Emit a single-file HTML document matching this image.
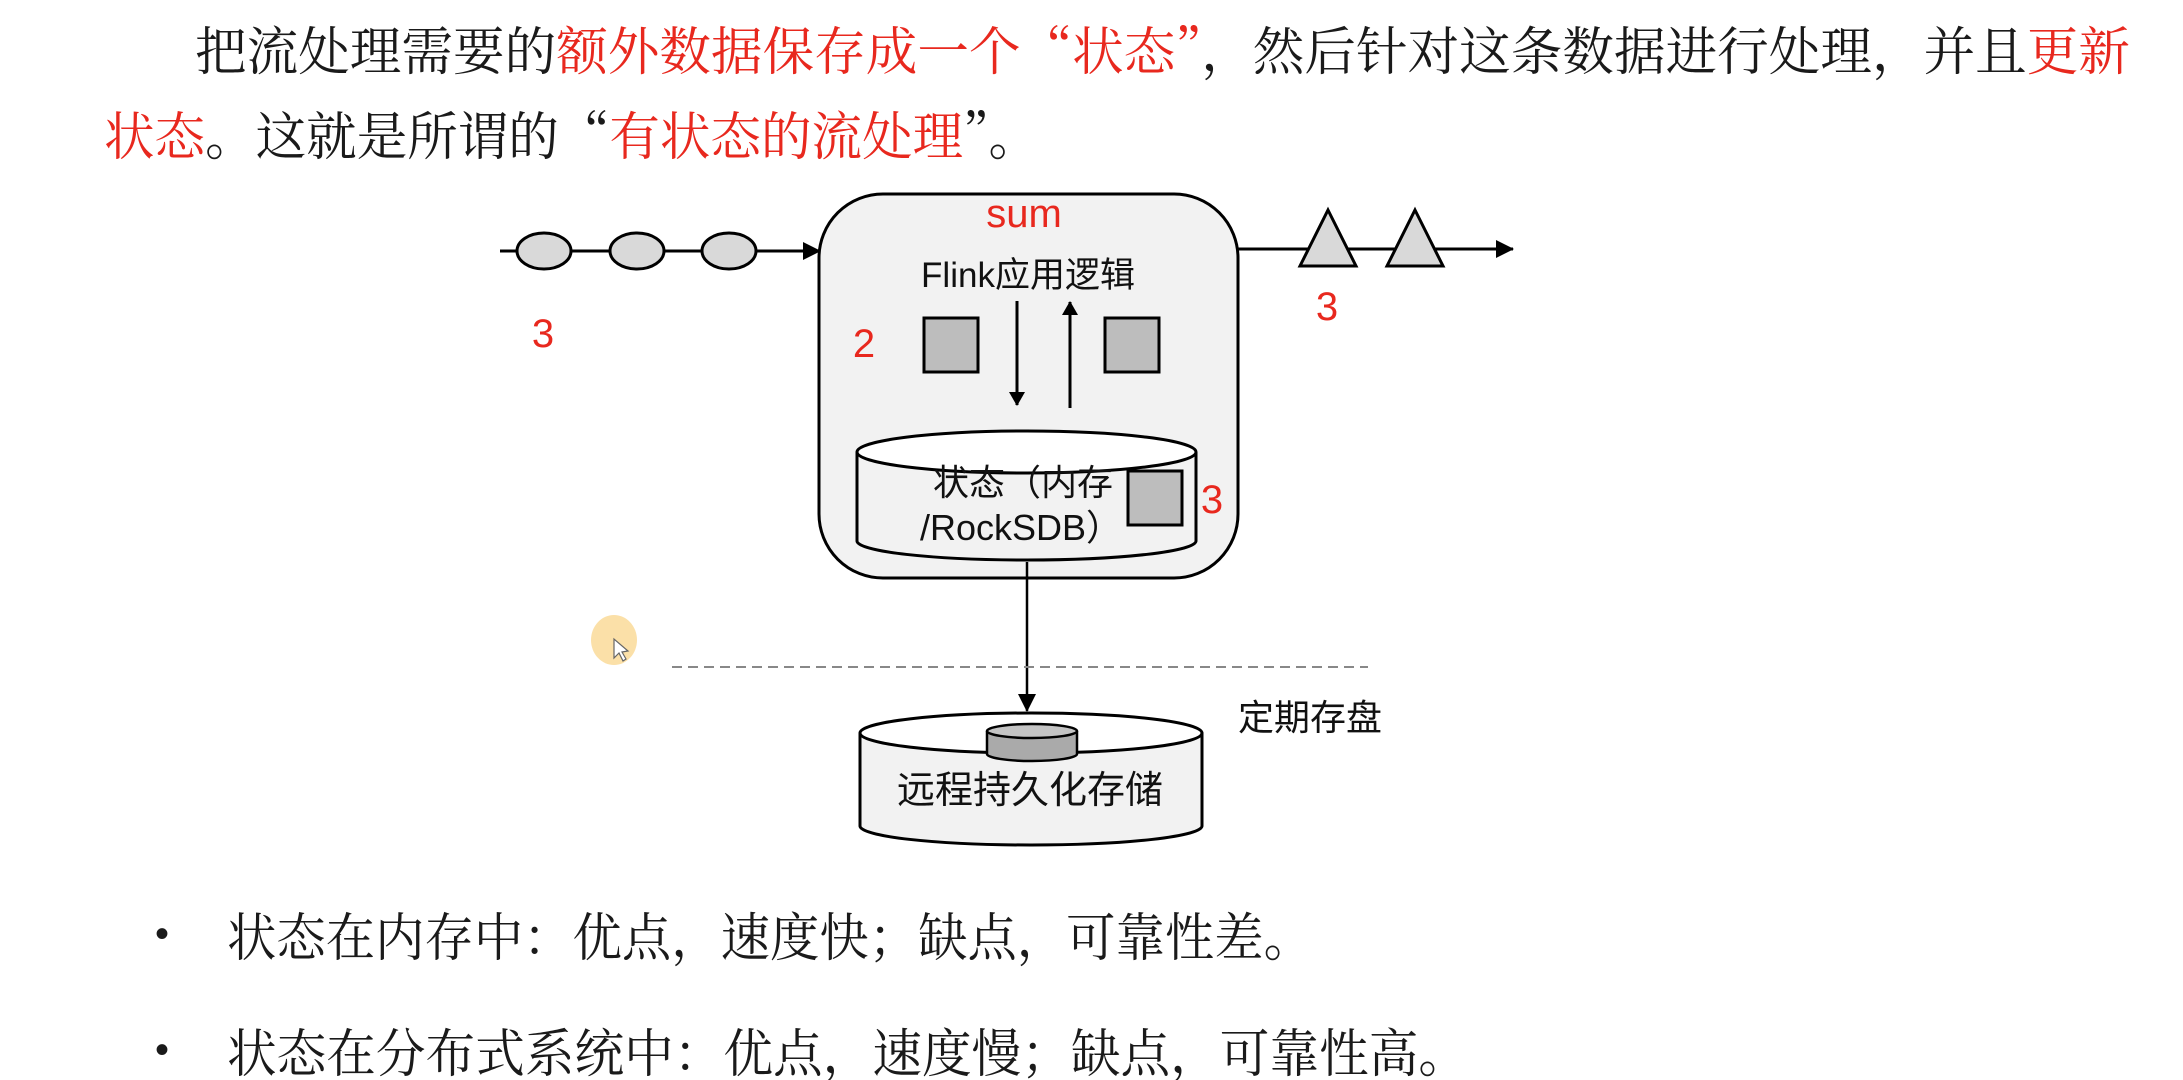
<!DOCTYPE html>
<html><head><meta charset="utf-8"><style>
html,body{margin:0;padding:0;background:#fff;width:2183px;height:1080px;overflow:hidden}
svg{display:block}
.t{font-family:"Noto Serif CJK SC","Liberation Serif",serif;font-size:52px;fill:#1a1a1a}
.r{fill:#e8281e}
.d{font-family:"Liberation Sans","Noto Sans CJK SC",sans-serif;fill:#111}
.n{font-family:"Liberation Sans",sans-serif;fill:#e8281e;font-size:40px}
.bu{font-family:"Liberation Sans",sans-serif;font-size:40px;fill:#1a1a1a}
</style></head><body>
<svg width="2183" height="1080" viewBox="0 0 2183 1080" xmlns="http://www.w3.org/2000/svg">
<defs>
<marker id="a" markerWidth="14" markerHeight="16" refX="13" refY="8" orient="auto" markerUnits="userSpaceOnUse" viewBox="0 0 14 16"><path d="M0,0 L14,8 L0,16z" fill="#000"/></marker>
<marker id="b" markerWidth="18" markerHeight="18" refX="17" refY="9" orient="auto" markerUnits="userSpaceOnUse" viewBox="0 0 18 18"><path d="M0,0 L18,9 L0,18z" fill="#000"/></marker>
</defs>
<text class="t" x="195" y="70" textLength="1935" lengthAdjust="spacingAndGlyphs">把流处理需要的<tspan class="r">额外数据保存成一个“状态”</tspan>，然后针对这条数据进行处理，并且<tspan class="r">更新</tspan></text>
<text class="t" x="104" y="155" textLength="935" lengthAdjust="spacingAndGlyphs"><tspan class="r">状态</tspan>。这就是所谓的“<tspan class="r">有状态的流处理</tspan>”。</text>

<line x1="500" y1="251" x2="820" y2="251" stroke="#000" stroke-width="3" marker-end="url(#b)"/>
<ellipse cx="544" cy="251" rx="27" ry="18" fill="#d9d9d9" stroke="#000" stroke-width="3"/>
<ellipse cx="637" cy="251" rx="27" ry="18" fill="#d9d9d9" stroke="#000" stroke-width="3"/>
<ellipse cx="729" cy="251" rx="27" ry="18" fill="#d9d9d9" stroke="#000" stroke-width="3"/>
<text class="n" x="543" y="347" text-anchor="middle">3</text>

<line x1="1238" y1="249" x2="1513" y2="249" stroke="#000" stroke-width="3" marker-end="url(#b)"/>
<polygon points="1328,210 1356,266 1300,266" fill="#d9d9d9" stroke="#000" stroke-width="3"/>
<polygon points="1415,210 1443,266 1387,266" fill="#d9d9d9" stroke="#000" stroke-width="3"/>
<text class="n" x="1327" y="320" text-anchor="middle">3</text>

<rect x="819" y="194" width="419" height="384" rx="64" fill="#f2f2f2" stroke="#000" stroke-width="3"/>
<text class="n" x="1024" y="227" text-anchor="middle">sum</text>
<text class="d" x="1028" y="287" text-anchor="middle" font-size="35">Flink应用逻辑</text>
<text class="n" x="864" y="357" text-anchor="middle">2</text>
<rect x="924" y="318" width="54" height="54" fill="#bdbdbd" stroke="#000" stroke-width="3"/>
<rect x="1105" y="318" width="54" height="54" fill="#bdbdbd" stroke="#000" stroke-width="3"/>
<line x1="1017" y1="301" x2="1017" y2="405" stroke="#000" stroke-width="3" marker-end="url(#a)"/>
<line x1="1070" y1="408" x2="1070" y2="302" stroke="#000" stroke-width="3" marker-end="url(#a)"/>

<path d="M857,452 L857,541 A169.5,19 0 0 0 1196,541 L1196,452" fill="#f2f2f2" stroke="#000" stroke-width="3"/>
<ellipse cx="1026.5" cy="452" rx="169.5" ry="21" fill="#fff" stroke="#000" stroke-width="3"/>
<text class="d" x="933" y="495" font-size="36">状态（内存</text>
<text class="d" x="920" y="540" font-size="36">/RockSDB）</text>
<rect x="1128" y="471" width="54" height="54" fill="#bdbdbd" stroke="#000" stroke-width="3"/>
<text class="n" x="1212" y="513" text-anchor="middle">3</text>

<line x1="1027" y1="562" x2="1027" y2="711" stroke="#000" stroke-width="2.5" marker-end="url(#b)"/>
<line x1="672" y1="667" x2="1368" y2="667" stroke="#888" stroke-width="2" stroke-dasharray="10,6"/>
<text class="d" x="1238" y="730" font-size="36">定期存盘</text>

<path d="M860,733 L860,826 A171,19 0 0 0 1202,826 L1202,733" fill="#f2f2f2" stroke="#000" stroke-width="3"/>
<ellipse cx="1031" cy="733" rx="171" ry="20" fill="#fff" stroke="#000" stroke-width="3"/>
<path d="M987,731 L987,754 A45,7 0 0 0 1077,754 L1077,731" fill="#aaa" stroke="#000" stroke-width="2.5"/>
<ellipse cx="1032" cy="731" rx="45" ry="7" fill="#c4c4c4" stroke="#000" stroke-width="2.5"/>
<text class="d" x="1030" y="803" font-size="38" text-anchor="middle">远程持久化存储</text>

<ellipse cx="614" cy="640" rx="23" ry="25" fill="#fbe0a8"/>
<path d="M614,639 L614,658 L619,653 L623,661 L626,659 L622,652 L628,651 z" fill="#fff" stroke="#666" stroke-width="1.2"/>

<text class="bu" x="155" y="947">•</text>
<text class="t" x="227" y="956" font-size="50" textLength="1086" lengthAdjust="spacingAndGlyphs">状态在内存中：优点，速度快；缺点，可靠性差。</text>
<text class="bu" x="155" y="1063">•</text>
<text class="t" x="227" y="1072" font-size="50" textLength="1241" lengthAdjust="spacingAndGlyphs">状态在分布式系统中：优点，速度慢；缺点，可靠性高。</text>
</svg>
</body></html>
